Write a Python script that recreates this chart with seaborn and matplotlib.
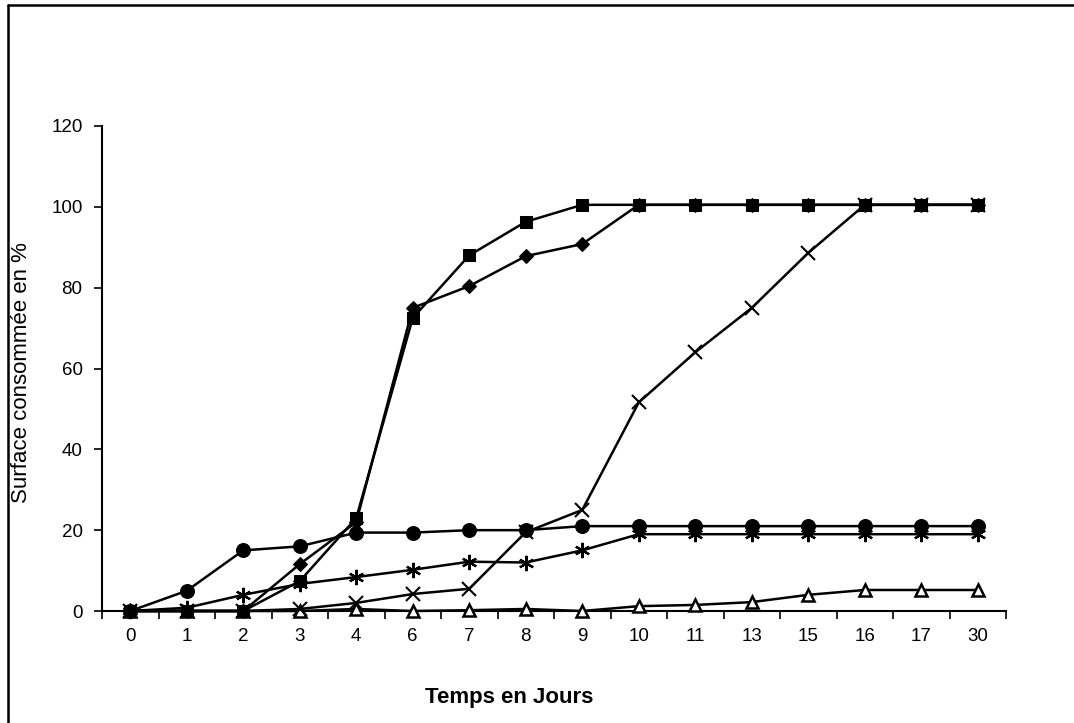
import matplotlib
matplotlib.use("Agg")
import matplotlib.pyplot as plt
from matplotlib.lines import Line2D
import seaborn as sns
import pandas as pd

sns.set_theme(style="white")
plt.rcParams['font.family'] = ['Liberation Sans', 'DejaVu Sans']
plt.rcParams.update({"text.color": "black", "axes.labelcolor": "black",
                     "xtick.color": "black", "ytick.color": "black"})

days = ["0", "1", "2", "3", "4", "6", "7", "8", "9", "10", "11", "13", "15", "16", "17", "30"]

circles = [0, 5, 15, 16, 19.4, 19.4, 20, 20, 21, 21, 21, 21, 21, 21, 21, 21]
squares = [0, 0, 0, 7.4, 23, 72.5, 88, 96.3, 100.5, 100.5, 100.5, 100.5, 100.5, 100.5, 100.5, 100.5]
diamonds = [0, 0, 0, 11.6, 22, 75, 80.4, 87.8, 90.8, 100.5, 100.5, 100.5, 100.5, 100.5, 100.5, 100.5]
crosses = [0, 0, 0, 0.5, 2, 4.2, 5.5, 19.5, 25, 51.6, 64, 75, 88.6, 100.5, 100.5, 100.5]
asterisks = [0, 0.8, 4, 6.7, 8.4, 10.2, 12.2, 12, 15, 19, 19, 19, 19, 19, 19, 19]
triangles = [0, 0, 0, 0, 0.5, 0, 0.2, 0.5, 0, 1.2, 1.5, 2.2, 4, 5.2, 5.2, 5.2]

yticks = [0, 20, 40, 60, 80, 100, 120]

W, H = 1074, 723
fig = plt.figure(figsize=(W / 100, H / 100), dpi=100)
ax = fig.add_axes([102 / W, 1 - 611 / H, (1006 - 102) / W, (611 - 126) / H])

pos = list(range(len(days)))
series = [
    (triangles, dict(marker="^", markersize=8, markerfacecolor="white", markeredgewidth=1.8)),
    (asterisks, dict(marker=(6, 2, 0), markersize=11, markeredgewidth=1.6)),
    (circles, dict(marker="o", markersize=10)),
    (diamonds, dict(marker="D", markersize=7)),
    (squares, dict(marker="s", markersize=9)),
    (crosses, dict(marker="x", markersize=10, markeredgewidth=1.5)),
]
for vals, kw in series:
    df = pd.DataFrame({"pos": pos, "val": vals})
    sns.lineplot(data=df, x="pos", y="val", ax=ax, color="black", linewidth=1.8,
                 markeredgecolor="black", clip_on=False, zorder=3, **kw)

ax.set_xlim(-0.5, len(days) - 0.5)
ax.set_ylim(0, 120)
ax.set_yticks(yticks)
ax.set_yticklabels([str(v) for v in yticks], fontsize=13.5)
ax.set_xticks(pos)
ax.set_xticklabels(days, fontsize=13.5)
ax.set_xticks([p - 0.5 for p in pos] + [len(days) - 0.5], minor=True)
ax.tick_params(axis="x", which="major", length=0, pad=12)
ax.tick_params(axis="x", which="minor", length=6, width=1.2, direction="out", bottom=True)
ax.tick_params(axis="y", which="major", length=6, width=1.2, direction="out", left=True, pad=8)

for s in ["top", "right"]:
    ax.spines[s].set_visible(False)
for s in ["left", "bottom"]:
    ax.spines[s].set_color("black")
    ax.spines[s].set_linewidth(1.5)

ax.set_xlabel("")
ax.set_ylabel("")
fig.text(509 / W, 1 - 698 / H, "Temps en Jours", fontsize=16, fontweight="bold",
         ha="center", va="center")
fig.text(22 / W, 1 - 373 / H, "Surface consommée en %", fontsize=16,
         rotation=90, ha="center", va="center")

fig.add_artist(Line2D([8 / W, 8 / W], [0, 1 - 5 / H], transform=fig.transFigure, color="black", linewidth=1.8))
fig.add_artist(Line2D([8 / W, 1], [1 - 5 / H, 1 - 5 / H], transform=fig.transFigure, color="black", linewidth=1.8))

fig.savefig("out.png", dpi=100)
